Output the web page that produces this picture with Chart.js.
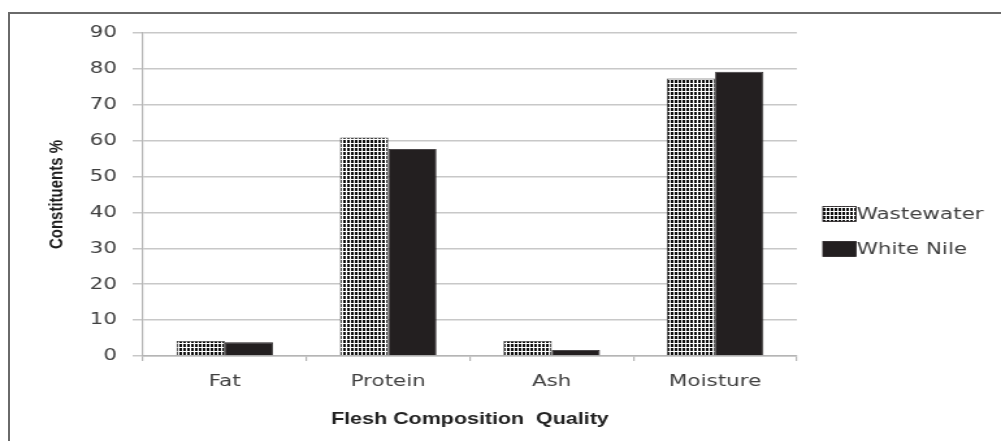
<!DOCTYPE html>
<html>
<head>
<meta charset="utf-8">
<script src="https://cdn.jsdelivr.net/npm/chart.js@4.4.1/dist/chart.umd.min.js"></script>
<style>
  html, body { margin: 0; padding: 0; background: #fff; overflow: hidden; }
  body { width: 1001px; height: 441px; position: relative; }
  #frame {
    position: absolute; left: 8px; top: 12px; width: 1100px; height: 600px;
    border: 2px solid #6a6a6a; box-sizing: border-box;
  }
  /* the chart is drawn narrow and widened horizontally */
  #wrap {
    position: absolute; left: 0; top: 0; width: 770px; height: 441px;
    transform: scaleX(1.3); transform-origin: 0 0;
  }
  canvas { display: block; }
</style>
</head>
<body>
<div id="frame"></div>
<div id="wrap"><canvas id="chart" width="770" height="441"></canvas></div>
<script>
const categories = ['Fat', 'Protein', 'Ash', 'Moisture'];
const wastewater = [4.2, 60.9, 4.2, 77.3];
const whiteNile = [3.8, 57.7, 1.7, 79.2];
const seriesNames = ['Wastewater', 'White Nile'];
const yTicks = [0, 10, 20, 30, 40, 50, 60, 70, 80, 90];

// small checkered fill for the first series
function checkerPattern() {
  const c = document.createElement('canvas');
  c.width = 3; c.height = 4;
  const g = c.getContext('2d');
  g.fillStyle = '#ffffff';
  g.fillRect(0, 0, 3, 4);
  g.fillStyle = '#111111';
  g.fillRect(0, 0, 2, 3);
  return g.createPattern(c, 'repeat');
}
const dark = '#231f20';
const pattern = checkerPattern();

const tickFont = { family: '"DejaVu Sans", Verdana, sans-serif', size: 16.5 };
const titleFont = { family: '"Liberation Sans Narrow", "Arial Narrow", sans-serif', weight: 'bold' };

// legend boxes placed to the right of the plot
const sideLegend = {
  id: 'sideLegend',
  afterDraw(chart) {
    const ctx = chart.ctx;
    const rows = [214, 249];
    ctx.save();
    chart.data.datasets.forEach((ds, i) => {
      const y = rows[i];
      ctx.fillStyle = ds.backgroundColor;
      ctx.fillRect(633, y - 7.5, 25.5, 15);
      ctx.strokeStyle = dark;
      ctx.lineWidth = 0.8;
      ctx.strokeRect(633, y - 7.5, 25.5, 15);
      ctx.fillStyle = '#404040';
      ctx.font = '16.5px "DejaVu Sans", Verdana, sans-serif';
      ctx.textBaseline = 'middle';
      ctx.textAlign = 'left';
      ctx.fillText(ds.label, 659, y + 1);
    });
    ctx.restore();
  }
};

new Chart(document.getElementById('chart'), {
  type: 'bar',
  data: {
    labels: categories,
    datasets: [
      { label: seriesNames[0], data: wastewater, backgroundColor: pattern,
        borderColor: '#3a3a3a', borderWidth: 0.8 },
      { label: seriesNames[1], data: whiteNile, backgroundColor: dark,
        borderColor: dark, borderWidth: 0.8 }
    ]
  },
  options: {
    responsive: false,
    animation: false,
    layout: { padding: { left: 0, right: 157, top: 33, bottom: 0 } },
    datasets: { bar: { categoryPercentage: 0.59, barPercentage: 1.0 } },
    plugins: { legend: { display: false }, tooltip: { enabled: false } },
    scales: {
      x: {
        afterFit(s) { s.height = 85; },
        grid: { drawOnChartArea: false, offset: true, tickLength: 5, color: '#b5b5b5', lineWidth: 1.2 },
        border: { color: '#b5b5b5', width: 1.5 },
        ticks: { font: tickFont, color: '#404040', padding: 11 },
        title: { display: true, text: 'Flesh Composition  Quality',
          font: Object.assign({ size: 16.5 }, titleFont), color: '#222222',
          padding: { top: 0, bottom: 12 } }
      },
      y: {
        min: 0, max: 90,
        afterFit(s) { s.width = 110; },
        afterBuildTicks(s) { s.ticks = yTicks.map(v => ({ value: v })); },
        grid: { color: '#c8c8c8', lineWidth: 1.5, tickLength: 8 },
        border: { color: '#b5b5b5', width: 1.2 },
        ticks: { font: tickFont, color: '#404040', padding: 12 },
        title: { display: true, text: 'Constituents %',
          font: Object.assign({ size: 15 }, titleFont), color: '#1e1e1e',
          padding: { top: 35, bottom: 0 } }
      }
    }
  },
  plugins: [sideLegend]
});
</script>
</body>
</html>
